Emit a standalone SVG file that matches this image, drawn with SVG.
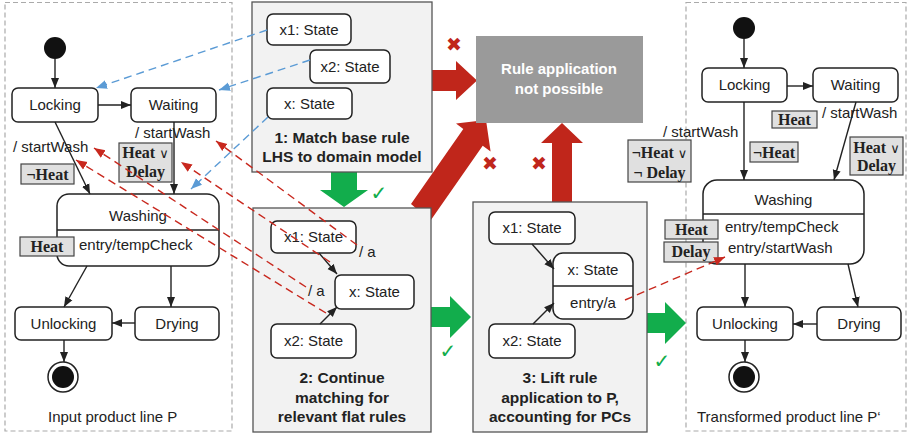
<svg xmlns="http://www.w3.org/2000/svg" width="908" height="436" viewBox="0 0 908 436">
<style>
.border{fill:none;stroke:#aaa;stroke-width:1.2;stroke-dasharray:5 3}
.panel{fill:#f2f2f2;stroke:#555;stroke-width:1.3}
.st{fill:#fff;stroke:#222;stroke-width:1.5}
.t{font-family:"Liberation Sans",Arial,sans-serif;font-size:15px;fill:#222}
.c{text-anchor:middle}
.ti{font-family:"Liberation Sans",Arial,sans-serif;font-size:15.5px;font-weight:bold;fill:#222;text-anchor:middle}
.g{fill:#e0e0e0;stroke:#444;stroke-width:1.2}
.gt{font-family:"Liberation Serif","Times New Roman",serif;font-size:16px;font-weight:bold;fill:#222;text-anchor:middle}
.or{font-family:"DejaVu Sans",sans-serif;font-weight:normal;font-size:13px}
.ed{fill:none;stroke:#222;stroke-width:1.4;marker-end:url(#ah)}
.rd{fill:none;stroke:#c8281e;stroke-width:1.4;stroke-dasharray:8 5;marker-end:url(#ahr)}
.bd{fill:none;stroke:#5b9bd5;stroke-width:1.4;stroke-dasharray:8 5;marker-end:url(#ahb)}
.dot{fill:#111}
.red{fill:#c0261b}
.grn{fill:#12ad4c}
.x{font-family:"DejaVu Sans",sans-serif;font-size:19px;fill:#c0261b;text-anchor:middle}
.ok{font-family:"DejaVu Sans",sans-serif;font-size:20px;fill:#12ad4c;text-anchor:middle}
</style>
<defs>
<marker id="ah" viewBox="0 0 10 10" refX="10" refY="5" markerWidth="10" markerHeight="10" markerUnits="userSpaceOnUse" orient="auto"><path d="M0,1 L10,5 L0,9 z" fill="#222"/></marker>
<marker id="ahr" viewBox="0 0 10 10" refX="10" refY="5" markerWidth="11" markerHeight="11" markerUnits="userSpaceOnUse" orient="auto"><path d="M0,1 L10,5 L0,9 z" fill="#c8281e"/></marker>
<marker id="ahb" viewBox="0 0 10 10" refX="10" refY="5" markerWidth="11" markerHeight="11" markerUnits="userSpaceOnUse" orient="auto"><path d="M0,1 L10,5 L0,9 z" fill="#5b9bd5"/></marker>
</defs>
<rect width="908" height="436" fill="#fff"/>

<!-- frames -->
<rect class="border" x="5" y="2.5" width="227" height="428.5"/>
<rect class="border" x="686" y="2.5" width="220" height="428.5"/>

<!-- process arrows -->
<g id="process-arrows">
<polygon class="red" points="411,204 463.3,129 456,123.4 486,120 490.6,151.4 482.7,145.8 430.4,220.8"/>
<polygon class="red" points="432,70 456,70 456,61 477,80.5 456,100 456,91 432,91"/>
<polygon class="red" points="552,203 552,143 541,143 562,123 583,143 572,143 572,203"/>
<polygon class="grn" points="331,172 357,172 357,190 368,190 344,207 320,190 331,190"/>
<polygon class="grn" points="431,307 450,307 450,296 471,317 450,338 450,327 431,327"/>
<polygon class="grn" points="647,313 665,313 665,302 686,323 665,344 665,333 647,333"/>
<text class="x" x="454" y="51">✖</text>
<text class="x" x="490" y="170">✖</text>
<text class="x" x="539" y="170">✖</text>
<text class="ok" x="379" y="200">✓</text>
<text class="ok" x="448" y="358">✓</text>
<text class="ok" x="662" y="368">✓</text>
</g>

<!-- panels -->
<g id="step1">
<rect class="panel" x="252" y="2" width="180" height="170"/>
<text class="ti" x="342" y="143">1: Match base rule</text>
<text class="ti" x="342" y="162">LHS to domain model</text>
</g>
<g id="step2">
<rect class="panel" x="253" y="208" width="178" height="224"/>
<text class="ti" x="342" y="383">2: Continue</text>
<text class="ti" x="342" y="403">matching for</text>
<text class="ti" x="342" y="422">relevant flat rules</text>
</g>
<g id="step3">
<rect class="panel" x="473" y="202" width="174" height="230"/>
<text class="ti" x="560" y="383">3: Lift rule</text>
<text class="ti" x="560" y="403">application to P,</text>
<text class="ti" x="560" y="422">accounting for PCs</text>
</g>
<g id="not-possible">
<rect x="476" y="36" width="167" height="87" fill="#9a9a9a"/>
<text class="ti" x="559" y="74" style="fill:#fff;font-size:15px">Rule application</text>
<text class="ti" x="559" y="94" style="fill:#fff;font-size:15px">not possible</text>
</g>

<!-- step 1 nodes -->
<g id="s1-x1"><rect class="st" x="267" y="14" width="84" height="31" rx="6"/><text class="t c" x="309" y="35">x1: State</text></g>
<g id="s1-x2"><rect class="st" x="310" y="50" width="80" height="33" rx="6"/><text class="t c" x="350" y="72">x2: State</text></g>
<g id="s1-x"><rect class="st" x="267" y="88" width="85" height="31" rx="6"/><text class="t c" x="309.5" y="109">x: State</text></g>

<!-- step 2 nodes -->
<g id="s2-x1"><rect class="st" x="271" y="221" width="85" height="32" rx="6"/><text class="t c" x="313.5" y="242">x1: State</text></g>
<g id="s2-x"><rect class="st" x="335" y="275" width="79" height="34" rx="6"/><text class="t c" x="374.5" y="297">x: State</text></g>
<g id="s2-x2"><rect class="st" x="271" y="324" width="85" height="34" rx="6"/><text class="t c" x="313.5" y="346">x2: State</text></g>

<!-- step 3 nodes -->
<g id="s3-x1"><rect class="st" x="489" y="212" width="86" height="32" rx="6"/><text class="t c" x="532" y="233">x1: State</text></g>
<g id="s3-x"><rect class="st" x="553" y="253" width="80" height="66" rx="10"/><line x1="553" y1="286" x2="633" y2="286" stroke="#222" stroke-width="1.5"/><text class="t c" x="593" y="275">x: State</text><text class="t c" x="593" y="308">entry/a</text></g>
<g id="s3-x2"><rect class="st" x="489" y="324" width="86" height="34" rx="6"/><text class="t c" x="532" y="346">x2: State</text></g>

<!-- input product line -->
<g id="p-init"><circle class="dot" cx="55" cy="48" r="11"/></g>
<g id="p-locking"><rect class="st" x="12" y="88" width="86" height="34" rx="6"/><text class="t c" x="55" y="110">Locking</text></g>
<g id="p-waiting"><rect class="st" x="131" y="88" width="85" height="34" rx="6"/><text class="t c" x="173.5" y="110">Waiting</text></g>
<g id="p-washing"><rect class="st" x="57" y="194" width="162" height="72" rx="12"/><line x1="57" y1="230" x2="219" y2="230" stroke="#222" stroke-width="1.5"/><text class="t c" x="138" y="221">Washing</text><text class="t" x="79" y="250">entry/tempCheck</text></g>
<g id="p-unlocking"><rect class="st" x="15" y="307" width="97" height="33" rx="6"/><text class="t c" x="63.5" y="329">Unlocking</text></g>
<g id="p-drying"><rect class="st" x="135" y="307" width="84" height="33" rx="6"/><text class="t c" x="177" y="329">Drying</text></g>
<g id="p-final"><circle cx="63" cy="377" r="15" fill="#fff" stroke="#222" stroke-width="1.5"/><circle class="dot" cx="63" cy="377" r="11"/></g>
<g id="p-labels">
<text class="t" x="13" y="152">/ startWash</text>
<text class="t" x="135" y="138">/ startWash</text>
<rect class="g" x="21" y="164" width="53" height="20"/><text class="gt" x="47.5" y="180">¬Heat</text>
<rect class="g" x="119" y="143" width="53" height="39"/><text class="gt" x="145.5" y="158">Heat <tspan class="or">∨</tspan></text><text class="gt" x="145.5" y="177">Delay</text>
<rect class="g" x="20" y="237" width="54" height="19"/><text class="gt" x="47" y="252">Heat</text>
<text class="t" x="48" y="422">Input product line P</text>
</g>

<!-- transformed product line -->
<g id="q-init"><circle class="dot" cx="744" cy="28" r="11"/></g>
<g id="q-locking"><rect class="st" x="702" y="68" width="85" height="34" rx="6"/><text class="t c" x="744.5" y="90">Locking</text></g>
<g id="q-waiting"><rect class="st" x="813" y="68" width="85" height="34" rx="6"/><text class="t c" x="855.5" y="90">Waiting</text></g>
<g id="q-washing"><rect class="st" x="703" y="180" width="161" height="84" rx="14"/><line x1="703" y1="214" x2="864" y2="214" stroke="#222" stroke-width="1.5"/><text class="t c" x="783.5" y="205">Washing</text><text class="t" x="725" y="232">entry/tempCheck</text><text class="t" x="728" y="253">entry/startWash</text></g>
<g id="q-unlocking"><rect class="st" x="697" y="307" width="96" height="33" rx="6"/><text class="t c" x="745" y="329">Unlocking</text></g>
<g id="q-drying"><rect class="st" x="817" y="307" width="84" height="33" rx="6"/><text class="t c" x="859" y="329">Drying</text></g>
<g id="q-final"><circle cx="744" cy="377" r="15" fill="#fff" stroke="#222" stroke-width="1.5"/><circle class="dot" cx="744" cy="377" r="11"/></g>
<g id="q-labels">
<rect class="g" x="772" y="111" width="45" height="17"/><text class="gt" x="794.5" y="125">Heat</text>
<text class="t" x="822" y="118">/ startWash</text>
<text class="t" x="663" y="137">/ startWash</text>
<rect class="g" x="628" y="140" width="63" height="42"/><text class="gt" x="659.5" y="158">¬Heat <tspan class="or">∨</tspan></text><text class="gt" x="659.5" y="178">¬ Delay</text>
<rect class="g" x="750" y="142" width="48" height="20"/><text class="gt" x="774" y="158">¬Heat</text>
<rect class="g" x="850" y="137" width="53" height="38"/><text class="gt" x="876.5" y="153">Heat <tspan class="or">∨</tspan></text><text class="gt" x="876.5" y="171">Delay</text>
<rect class="g" x="665" y="220" width="53" height="19"/><text class="gt" x="691.5" y="235">Heat</text>
<rect class="g" x="664" y="242" width="54" height="20"/><text class="gt" x="691" y="257">Delay</text>
<text class="t" x="697" y="422">Transformed product line P‘</text>
</g>

<!-- connectors -->
<g id="connectors">
<line class="ed" x1="55" y1="59" x2="55" y2="88"/>
<line class="ed" x1="98" y1="105" x2="131" y2="105"/>
<line class="ed" x1="55" y1="122" x2="90" y2="194"/>
<line class="ed" x1="174" y1="122" x2="174" y2="194"/>
<line class="ed" x1="87" y1="266" x2="64" y2="307"/>
<line class="ed" x1="171" y1="266" x2="171" y2="307"/>
<line class="ed" x1="135" y1="323" x2="112" y2="323"/>
<line class="ed" x1="64" y1="340" x2="64" y2="362"/>

<line class="ed" x1="319" y1="253" x2="337" y2="274"/>
<line class="ed" x1="320" y1="324" x2="337" y2="307"/>
<text class="t" x="359" y="257">/ a</text>
<text class="t" x="308" y="296">/ a</text>
<line class="ed" x1="532" y1="244" x2="554" y2="269"/>
<line class="ed" x1="533" y1="324" x2="554" y2="303"/>

<line class="ed" x1="744" y1="39" x2="744" y2="68"/>
<line class="ed" x1="787" y1="86" x2="813" y2="86"/>
<line class="ed" x1="744" y1="102" x2="744" y2="180"/>
<line class="ed" x1="856" y1="102" x2="834" y2="180"/>
<line class="ed" x1="745" y1="264" x2="745" y2="307"/>
<line class="ed" x1="848" y1="264" x2="858" y2="307"/>
<line class="ed" x1="817" y1="324" x2="793" y2="324"/>
<line class="ed" x1="745" y1="340" x2="745" y2="362"/>

<line class="bd" x1="267" y1="30" x2="96" y2="88"/>
<line class="bd" x1="310" y1="60" x2="219" y2="90"/>
<line class="bd" x1="268" y1="117" x2="191" y2="189"/>

<line class="rd" x1="357" y1="245" x2="216" y2="141"/>
<line class="rd" x1="330" y1="262" x2="181" y2="162"/>
<line class="rd" x1="306" y1="287" x2="94" y2="148"/>
<line class="rd" x1="326" y1="313" x2="76" y2="160"/>
<line class="rd" x1="625" y1="300" x2="725" y2="257"/>
</g>
</svg>
